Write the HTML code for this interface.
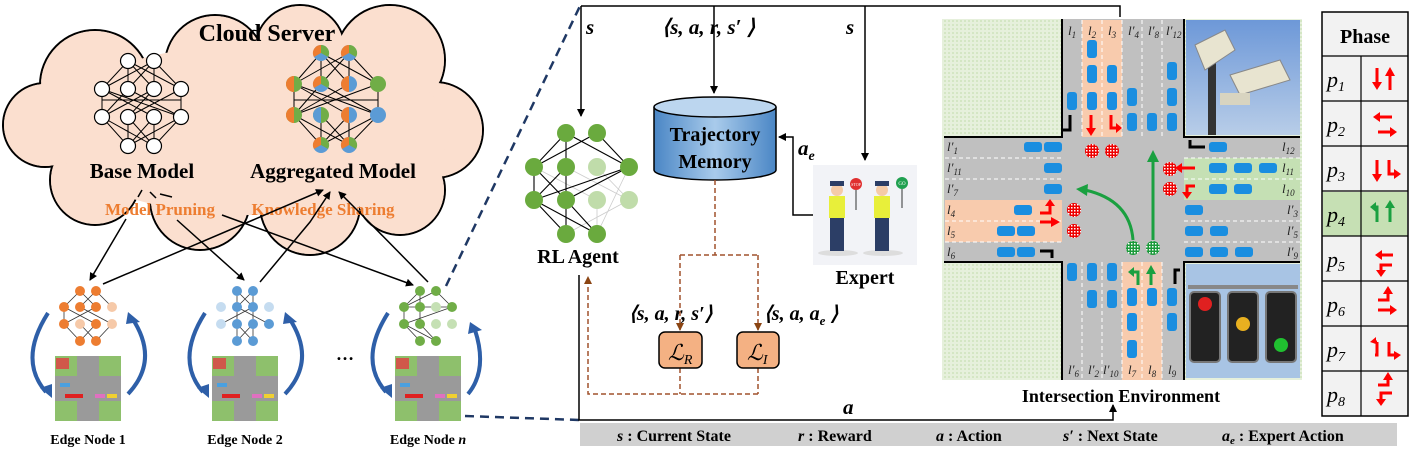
<!DOCTYPE html>
<html><head><meta charset="utf-8"><style>
html,body{margin:0;padding:0;background:#fff}
svg text{font-family:"Liberation Serif",serif}
</style></head><body>
<svg width="1412" height="450" viewBox="0 0 1412 450" xmlns="http://www.w3.org/2000/svg">
<defs>
<marker id="ah" markerWidth="8" markerHeight="8" refX="7" refY="4" orient="auto" markerUnits="userSpaceOnUse"><path d="M0,0 L8,4 L0,8 z" fill="#000"/></marker>
<marker id="ahb" markerWidth="8" markerHeight="8" refX="7" refY="4" orient="auto" markerUnits="userSpaceOnUse"><path d="M0,0 L8,4 L0,8 z" fill="#8b4513"/></marker>
<pattern id="grass" width="4" height="4" patternUnits="userSpaceOnUse"><rect width="4" height="4" fill="#e6f0dc"/><rect width="2" height="2" fill="#d4e6c4"/></pattern>
<pattern id="chk" width="3" height="3" patternUnits="userSpaceOnUse"><rect width="3" height="3" fill="#e00"/><rect width="1.5" height="1.5" fill="#fff"/></pattern>
<pattern id="chkg" width="3" height="3" patternUnits="userSpaceOnUse"><rect width="3" height="3" fill="#1a9a3a"/><rect width="1.5" height="1.5" fill="#fff"/></pattern>
<linearGradient id="cyl" x1="0" x2="1"><stop offset="0" stop-color="#4a86c5"/><stop offset="0.5" stop-color="#a9cbeb"/><stop offset="1" stop-color="#4a86c5"/></linearGradient>
<linearGradient id="sky" x1="0" y1="0" x2="0" y2="1"><stop offset="0" stop-color="#6d98d8"/><stop offset="1" stop-color="#b8cde8"/></linearGradient>
</defs>

<!-- CLOUD -->
<g stroke="#000" stroke-width="2" fill="#fbdfcf">
<circle cx="95" cy="85" r="55"/><circle cx="215" cy="65" r="50"/><circle cx="300" cy="50" r="45"/><circle cx="390" cy="60" r="55"/>
<circle cx="435" cy="130" r="48"/><circle cx="400" cy="190" r="45"/><circle cx="310" cy="205" r="50"/><circle cx="200" cy="200" r="50"/>
<circle cx="95" cy="180" r="45"/><circle cx="45" cy="125" r="42"/>
</g>
<g fill="#fbdfcf">
<circle cx="95" cy="85" r="54"/><circle cx="215" cy="65" r="49"/><circle cx="300" cy="50" r="44"/><circle cx="390" cy="60" r="54"/>
<circle cx="435" cy="130" r="47"/><circle cx="400" cy="190" r="44"/><circle cx="310" cy="205" r="49"/><circle cx="200" cy="200" r="49"/>
<circle cx="95" cy="180" r="44"/><circle cx="45" cy="125" r="41"/>
<ellipse cx="250" cy="130" rx="200" ry="85"/>
</g>
<text x="267" y="41" font-size="24" font-weight="bold" text-anchor="middle">Cloud Server</text>

<!-- base model -->
<g stroke="#000" stroke-width="1" fill="none">
<path d="M128,61 L102,89 M128,61 L128,89 M128,61 L154,89 M128,61 L181,89 M154,61 L102,89 M154,61 L128,89 M154,61 L154,89 M154,61 L181,89"/>
<path d="M102,89 L102,117 M102,89 L154,117 M102,89 L181,117 M128,89 L102,117 M128,89 L181,117 M154,89 L102,117 M154,89 L128,117 M181,89 L181,117 M181,89 L128,117 M102,100 L181,100"/>
<path d="M102,117 L128,146 M102,117 L154,146 M128,117 L154,146 M154,117 L128,146 M181,117 L128,146 M181,117 L154,146 M128,117 L128,146 M154,117 L154,146"/>
</g>
<g stroke="#000" stroke-width="1.2" fill="#fff">
<circle cx="128" cy="61" r="7.5"/><circle cx="154" cy="61" r="7.5"/>
<circle cx="102" cy="89" r="7.5"/><circle cx="128" cy="89" r="7.5"/><circle cx="154" cy="89" r="7.5"/><circle cx="181" cy="89" r="7.5"/>
<circle cx="102" cy="117" r="7.5"/><circle cx="128" cy="117" r="7.5"/><circle cx="154" cy="117" r="7.5"/><circle cx="181" cy="117" r="7.5"/>
<circle cx="128" cy="146" r="7.5"/><circle cx="154" cy="146" r="7.5"/>
</g>
<text x="142" y="178" font-size="21" font-weight="bold" text-anchor="middle">Base Model</text>

<!-- aggregated model -->
<g stroke="#000" stroke-width="1" fill="none">
<path d="M321,53 L294,84 M321,53 L349,84 M321,53 L378,84 M349,53 L294,84 M349,53 L321,84 M349,53 L378,84 M321,53 L321,84 M349,53 L349,84"/>
<path d="M294,84 L294,115 M294,84 L349,115 M294,84 L378,115 M321,84 L378,115 M349,84 L294,115 M378,84 L294,115 M378,84 L378,115 M321,84 L294,115 M294,100 L378,100"/>
<path d="M294,115 L321,145 M294,115 L349,145 M321,115 L349,145 M349,115 L321,145 M378,115 L321,145 M378,115 L349,145 M321,115 L321,145 M349,115 L349,145"/>
</g>
<g>
<g transform="translate(321,53)"><circle r="8" fill="#5b9bd5"/><path d="M0,0 L0,-8 A8,8 0 0 0 -7,4 z" fill="#ed7d31"/><path d="M0,0 L0,-8 A8,8 0 0 1 7,4 z" fill="#70ad47"/></g>
<g transform="translate(349,53)"><circle r="8" fill="#5b9bd5"/><path d="M0,0 L0,-8 A8,8 0 0 0 -7,4 z" fill="#ed7d31"/><path d="M0,0 L0,-8 A8,8 0 0 1 7,4 z" fill="#70ad47"/></g>
<g transform="translate(294,84)"><circle r="8" fill="#70ad47"/><path d="M0,-8 A8,8 0 0 0 0,8 z" fill="#ed7d31"/></g>
<g transform="translate(321,84)"><circle r="8" fill="#5b9bd5"/><path d="M0,0 L0,-8 A8,8 0 0 0 -7,4 z" fill="#ed7d31"/><path d="M0,0 L0,-8 A8,8 0 0 1 7,4 z" fill="#70ad47"/></g>
<g transform="translate(349,84)"><circle r="8" fill="#5b9bd5"/><path d="M0,-8 A8,8 0 0 0 0,8 z" fill="#ed7d31"/></g>
<circle cx="378" cy="84" r="8" fill="#70ad47"/>
<g transform="translate(294,115)"><circle r="8" fill="#70ad47"/><path d="M0,-8 A8,8 0 0 0 0,8 z" fill="#ed7d31"/></g>
<g transform="translate(321,115)"><circle r="8" fill="#70ad47"/><path d="M0,-8 A8,8 0 0 0 0,8 z" fill="#5b9bd5"/></g>
<g transform="translate(349,115)"><circle r="8" fill="#5b9bd5"/><path d="M0,-8 A8,8 0 0 0 0,8 z" fill="#ed7d31"/></g>
<circle cx="378" cy="115" r="8" fill="#5b9bd5"/>
<g transform="translate(321,145)"><circle r="8" fill="#5b9bd5"/><path d="M0,0 L0,-8 A8,8 0 0 0 -7,4 z" fill="#ed7d31"/><path d="M0,0 L0,-8 A8,8 0 0 1 7,4 z" fill="#70ad47"/></g>
<g transform="translate(349,145)"><circle r="8" fill="#5b9bd5"/><path d="M0,0 L0,-8 A8,8 0 0 0 -7,4 z" fill="#ed7d31"/><path d="M0,0 L0,-8 A8,8 0 0 1 7,4 z" fill="#70ad47"/></g>
</g>
<text x="333" y="178" font-size="21" font-weight="bold" text-anchor="middle">Aggregated Model</text>
<text x="160" y="215" font-size="17" font-weight="bold" fill="#ed7d31" text-anchor="middle">Model Pruning</text>
<text x="323" y="215" font-size="17" font-weight="bold" fill="#ed7d31" text-anchor="middle">Knowledge Sharing</text>
<path d="M142,190 L138,197 M150,192 L156,198 M160,194 L172,197" stroke="#000" stroke-width="1.5"/>

<!-- cloud <-> edge arrows -->
<g stroke="#000" stroke-width="1.5" fill="none" marker-end="url(#ah)">
<path d="M126,219 L90,280"/>
<path d="M177,220 L244,280"/>
<path d="M222,215 L413,285"/>
<path d="M103,284 L253,220 L323,190"/>
<path d="M260,282 L310,222 L330,192"/>
<path d="M428,282 L367,220 L339,192"/>
</g>

<!-- edge nodes -->
<g>
<g transform="translate(88,0)">
 <g stroke="#333" stroke-width="0.8"><path d="M-8,291 L-24,307 M-8,291 L8,307 M8,291 L-8,307 M8,291 L24,307 M-24,307 L-24,324 M-24,307 L8,324 M-8,307 L24,324 M8,307 L-24,324 M-24,324 L-8,341 M8,324 L-8,341 M-8,324 L8,341 M24,324 L8,341"/></g>
 <g fill="#ed7d31"><circle cx="-8" cy="291" r="5"/><circle cx="8" cy="291" r="5"/><circle cx="-24" cy="307" r="5"/><circle cx="-8" cy="307" r="5"/><circle cx="8" cy="307" r="5"/><circle cx="-24" cy="324" r="5"/><circle cx="8" cy="324" r="5"/><circle cx="-8" cy="341" r="5"/><circle cx="8" cy="341" r="5"/></g>
 <g fill="#f6c9a8"><circle cx="24" cy="307" r="5"/><circle cx="-8" cy="324" r="5"/><circle cx="24" cy="324" r="5"/></g>
</g>
<g transform="translate(245,0)">
 <g stroke="#333" stroke-width="0.8"><path d="M-8,291 L-8,307 M-8,291 L8,307 M8,291 L-8,307 M8,291 L8,307 M-8,307 L24,324 M-8,307 L-8,324 M8,307 L-24,324 M8,307 L8,324 M-8,324 L-8,341 M8,324 L8,341 M-8,324 L8,341 M8,324 L-8,341"/></g>
 <g fill="#5b9bd5"><circle cx="-8" cy="291" r="5"/><circle cx="8" cy="291" r="5"/><circle cx="-8" cy="307" r="5"/><circle cx="8" cy="307" r="5"/><circle cx="-8" cy="324" r="5"/><circle cx="8" cy="324" r="5"/><circle cx="24" cy="324" r="5"/><circle cx="-8" cy="341" r="5"/><circle cx="8" cy="341" r="5"/></g>
 <g fill="#c5dcf0"><circle cx="-24" cy="307" r="5"/><circle cx="24" cy="307" r="5"/><circle cx="-24" cy="324" r="5"/></g>
</g>
<g transform="translate(428,0)">
 <g stroke="#333" stroke-width="0.8"><path d="M-8,291 L-24,307 M-8,291 L-8,307 M8,291 L24,307 M8,291 L-24,307 M-24,307 L-24,324 M-24,307 L24,307 M-8,307 L-8,324 M24,307 L-24,324 M-24,324 L-8,341 M-8,324 L8,341 M-24,324 L8,341"/></g>
 <g fill="#70ad47"><circle cx="-8" cy="291" r="5"/><circle cx="8" cy="291" r="5"/><circle cx="-24" cy="307" r="5"/><circle cx="-8" cy="307" r="5"/><circle cx="24" cy="307" r="5"/><circle cx="-24" cy="324" r="5"/><circle cx="-8" cy="324" r="5"/><circle cx="-8" cy="341" r="5"/><circle cx="8" cy="341" r="5"/></g>
 <g fill="#c5e0b4"><circle cx="8" cy="307" r="5"/><circle cx="8" cy="324" r="5"/><circle cx="24" cy="324" r="5"/></g>
</g>
</g>
<!-- map tiles -->
<g>
<g transform="translate(55,356)"><rect width="66" height="65" fill="#9a9a9a"/><rect width="22" height="20" fill="#8ec06c"/><rect x="44" width="22" height="20" fill="#8ec06c"/><rect y="45" width="22" height="20" fill="#8ec06c"/><rect x="44" y="45" width="22" height="20" fill="#8ec06c"/><rect x="1" y="2" width="13" height="11" fill="#d0584a"/><rect x="10" y="38" width="18" height="4" fill="#e02020"/><rect x="40" y="38" width="10" height="4" fill="#e070c0"/><rect x="5" y="27" width="10" height="4" fill="#4aa0e0"/><rect x="52" y="38" width="10" height="4" fill="#f0d030"/></g>
<g transform="translate(212,356)"><rect width="66" height="65" fill="#9a9a9a"/><rect width="22" height="20" fill="#8ec06c"/><rect x="44" width="22" height="20" fill="#8ec06c"/><rect y="45" width="22" height="20" fill="#8ec06c"/><rect x="44" y="45" width="22" height="20" fill="#8ec06c"/><rect x="1" y="2" width="13" height="11" fill="#d0584a"/><rect x="10" y="38" width="18" height="4" fill="#e02020"/><rect x="40" y="38" width="10" height="4" fill="#e070c0"/><rect x="5" y="27" width="10" height="4" fill="#4aa0e0"/><rect x="52" y="38" width="10" height="4" fill="#f0d030"/></g>
<g transform="translate(395,356)"><rect width="66" height="65" fill="#9a9a9a"/><rect width="22" height="20" fill="#8ec06c"/><rect x="44" width="22" height="20" fill="#8ec06c"/><rect y="45" width="22" height="20" fill="#8ec06c"/><rect x="44" y="45" width="22" height="20" fill="#8ec06c"/><rect x="1" y="2" width="13" height="11" fill="#d0584a"/><rect x="10" y="38" width="18" height="4" fill="#e02020"/><rect x="40" y="38" width="10" height="4" fill="#e070c0"/><rect x="5" y="27" width="10" height="4" fill="#4aa0e0"/><rect x="52" y="38" width="10" height="4" fill="#f0d030"/></g>
</g>
<!-- blue curved arrows -->
<g stroke="#2e5fa8" stroke-width="4" fill="none">
<path d="M48,313 Q18,360 46,392"/><path d="M128,394 Q160,360 132,318"/>
<path d="M205,313 Q175,360 203,392"/><path d="M285,394 Q317,360 289,318"/>
<path d="M388,313 Q358,360 386,392"/><path d="M468,394 Q488,370 475,330"/>
</g>
<g fill="#2e5fa8">
<path d="M40,388 L52,398 L52,384 z"/><path d="M128,312 L140,322 L126,324 z"/>
<path d="M197,388 L209,398 L209,384 z"/><path d="M285,312 L297,322 L283,324 z"/>
<path d="M380,388 L392,398 L392,384 z"/><path d="M470,322 L482,330 L468,334 z"/>
</g>
<text x="336" y="360" font-size="18" font-weight="bold">…</text>
<text x="88" y="444" font-size="14" font-weight="bold" text-anchor="middle">Edge Node 1</text>
<text x="245" y="444" font-size="14" font-weight="bold" text-anchor="middle">Edge Node 2</text>
<text x="428" y="444" font-size="14" font-weight="bold" text-anchor="middle">Edge Node <tspan font-style="italic">n</tspan></text>

<!-- blue dashed zoom lines -->
<g stroke="#1f3864" stroke-width="2.5" stroke-dasharray="9,6" fill="none">
<path d="M446,286 L580,6"/><path d="M465,416 L580,420"/>
</g>

<!-- middle panel lines -->
<g stroke="#000" stroke-width="1.5" fill="none">
<path d="M581,6 L1120,6 L1120,17"/>
<path d="M581,6 L581,116" marker-end="url(#ah)"/>
<path d="M714,6 L714,93" marker-end="url(#ah)"/>
<path d="M865,6 L865,160" marker-end="url(#ah)"/>
<path d="M813,215 L793,215 L793,137 L779,137" marker-end="url(#ah)"/>
<path d="M579,275 L579,420 L1113,420 L1113,405" marker-end="url(#ah)"/>
</g>
<g font-size="21" font-weight="bold" font-style="italic">
<text x="586" y="34">s</text>
<text x="662" y="34">⟨s, a, r, s′ ⟩</text>
<text x="846" y="34">s</text>
<text x="798" y="155">a<tspan font-size="14" dy="5">e</tspan></text>
<text x="843" y="414">a</text>
<text x="629" y="320" font-size="20">⟨s, a, r, s′⟩</text>
<text x="764" y="320" font-size="20">⟨s, a, a<tspan font-size="13" dy="5">e</tspan><tspan dy="-5"> ⟩</tspan></text>
</g>

<!-- cylinder -->
<path d="M654,107 L654,170 A61,10 0 0 0 776,170 L776,107" fill="url(#cyl)" stroke="#000" stroke-width="1.5"/>
<ellipse cx="715" cy="107" rx="61" ry="10" fill="#bcd6ef" stroke="#000" stroke-width="1.5"/>
<text x="715" y="141" font-size="20" font-weight="bold" text-anchor="middle">Trajectory</text>
<text x="715" y="168" font-size="20" font-weight="bold" text-anchor="middle">Memory</text>

<!-- RL agent -->
<g stroke="#ccc" stroke-width="0.8"><path d="M534,167 L597,200 M566,167 L629,200 M597,167 L629,200 M629,167 L597,234 M597,200 L597,234 M629,200 L566,234"/></g>
<g stroke="#000" stroke-width="1.1"><path d="M566,133 L534,167 M566,133 L566,167 M566,133 L629,167 M597,133 L534,167 M597,133 L629,167 M534,167 L534,200 M534,167 L566,200 M566,167 L534,200 M566,167 L566,200 M629,167 L534,200 M629,167 L566,200 M534,200 L566,234 M534,200 L597,234 M566,200 L597,234 M566,200 L566,234"/></g>
<g fill="#6aaa3e"><circle cx="566" cy="133" r="9"/><circle cx="597" cy="133" r="9"/><circle cx="534" cy="167" r="9"/><circle cx="566" cy="167" r="9"/><circle cx="629" cy="167" r="9"/><circle cx="534" cy="200" r="9"/><circle cx="566" cy="200" r="9"/><circle cx="566" cy="234" r="9"/><circle cx="597" cy="234" r="9"/></g>
<g fill="#c0dcaa"><circle cx="597" cy="167" r="9"/><circle cx="597" cy="200" r="9"/><circle cx="629" cy="200" r="9"/></g>
<text x="578" y="263" font-size="20" font-weight="bold" text-anchor="middle">RL Agent</text>

<!-- expert -->
<rect x="813" y="165" width="104" height="100" fill="#f2f3f7"/>
<ellipse cx="838" cy="253" rx="20" ry="3" fill="#ddd"/><ellipse cx="883" cy="253" rx="20" ry="3" fill="#ddd"/>
<g>
<circle cx="837" cy="190" r="6" fill="#f5cba7"/><rect x="830" y="181" width="14" height="5" fill="#2c3e66"/>
<rect x="829" y="196" width="16" height="22" fill="#e8ef3a"/><rect x="830" y="218" width="14" height="33" fill="#2c3e66"/>
<circle cx="882" cy="190" r="6" fill="#f5cba7"/><rect x="875" y="181" width="14" height="5" fill="#2c3e66"/>
<rect x="874" y="196" width="16" height="22" fill="#e8ef3a"/><rect x="875" y="218" width="14" height="33" fill="#2c3e66"/>
<circle cx="856" cy="184" r="6" fill="#e03030"/><line x1="856" y1="190" x2="856" y2="210" stroke="#333"/>
<circle cx="902" cy="183" r="6" fill="#20a050"/><line x1="902" y1="189" x2="902" y2="208" stroke="#333"/>
<text x="856" y="186" font-size="4" fill="#fff" text-anchor="middle">STOP</text>
<text x="902" y="185" font-size="5" fill="#fff" text-anchor="middle">GO</text>
</g>
<text x="865" y="284" font-size="20" font-weight="bold" text-anchor="middle">Expert</text>

<!-- dashed brown -->
<g stroke="#a0522d" stroke-width="1.5" stroke-dasharray="5,3" fill="none">
<path d="M715,180 L715,255"/><path d="M680,255 L758,255"/>
<path d="M680,255 L680,330" marker-end="url(#ahb)"/><path d="M758,255 L758,330" marker-end="url(#ahb)"/>
<path d="M680,368 L680,394 M758,368 L758,394 M758,394 L588,394 L588,277" marker-end="url(#ahb)"/>
</g>
<rect x="659" y="332" width="43" height="36" rx="6" fill="#f4b183" stroke="#000" stroke-width="1.5"/>
<rect x="737" y="332" width="42" height="36" rx="6" fill="#f4b183" stroke="#000" stroke-width="1.5"/>
<text x="668" y="360" font-size="22" font-style="italic">ℒ<tspan font-size="14" dy="4">R</tspan></text>
<text x="747" y="360" font-size="22" font-style="italic">ℒ<tspan font-size="14" dy="4">I</tspan></text>

<!-- legend bar -->
<rect x="580" y="423" width="817" height="23" fill="#d0d0d0"/>
<g font-size="16" font-weight="bold">
<text x="617" y="441"><tspan font-style="italic">s</tspan> : Current State</text>
<text x="798" y="441"><tspan font-style="italic">r</tspan> : Reward</text>
<text x="936" y="441"><tspan font-style="italic">a</tspan> : Action</text>
<text x="1063" y="441"><tspan font-style="italic">s′</tspan> : Next State</text>
<text x="1222" y="441"><tspan font-style="italic">a<tspan font-size="11" dy="3">e</tspan></tspan><tspan dy="-3"> : Expert Action</tspan></text>
</g>

<!-- INTERSECTION -->
<rect x="942" y="19" width="360" height="361" fill="url(#grass)"/>
<rect x="1062" y="19" width="122" height="361" fill="#c0c0c0"/>
<rect x="944" y="137" width="356" height="125" fill="#c0c0c0"/>
<rect x="1082" y="20" width="40" height="117" fill="#f8cbad"/>
<rect x="1122" y="262" width="40" height="118" fill="#f8cbad"/>
<rect x="945" y="200" width="117" height="42" fill="#f8cbad"/>
<rect x="1184" y="158" width="116" height="42" fill="#c5e0b4"/>
<g stroke="#fff" stroke-width="1" stroke-dasharray="4,3">
<path d="M1082,20 V137 M1102,20 V137 M1122,20 V137 M1142,20 V137 M1162,20 V137"/>
<path d="M1082,262 V380 M1102,262 V380 M1122,262 V380 M1142,262 V380 M1162,262 V380"/>
<path d="M945,158 H1062 M945,179 H1062 M945,221 H1062 M945,242 H1062"/>
<path d="M1184,158 H1300 M1184,179 H1300 M1184,221 H1300 M1184,242 H1300"/>
</g>
<g stroke="#000" stroke-width="2" fill="none">
<path d="M1062,19 V137 H944"/><path d="M944,262 H1062 V380"/><path d="M1184,380 V262 H1300"/><path d="M1300,137 H1184 V19"/>
</g>
<!-- photos -->
<rect x="1186" y="20" width="114" height="115" fill="url(#sky)"/>
<rect x="1208" y="60" width="8" height="75" fill="#333"/>
<path d="M1195,45 L1225,30 L1235,50 L1205,70 z" fill="#e8e4d0" stroke="#888"/>
<path d="M1230,75 L1280,60 L1290,80 L1240,95 z" fill="#e8e4d0" stroke="#888"/>
<rect x="1220" y="93" width="30" height="12" fill="#d8d4c0"/>
<rect x="1186" y="264" width="114" height="114" fill="#a8c4e4"/>
<rect x="1188" y="285" width="110" height="4" fill="#888"/>
<g fill="#222" stroke="#777" stroke-width="2">
<rect x="1190" y="292" width="30" height="70" rx="4"/><rect x="1228" y="292" width="30" height="70" rx="4"/><rect x="1266" y="292" width="30" height="70" rx="4"/></g>
<circle cx="1205" cy="304" r="7" fill="#e02020"/><circle cx="1243" cy="324" r="7" fill="#e8b020"/><circle cx="1281" cy="345" r="7" fill="#20c030"/>
<!-- cars -->
<g fill="#1a8ee0">
<rect x="1087" y="40" width="10" height="18" rx="3"/><rect x="1087" y="65" width="10" height="18" rx="3"/><rect x="1087" y="92" width="10" height="18" rx="3"/>
<rect x="1107" y="65" width="10" height="18" rx="3"/><rect x="1107" y="92" width="10" height="18" rx="3"/>
<rect x="1067" y="92" width="10" height="18" rx="3"/>
<rect x="1127" y="88" width="10" height="18" rx="3"/><rect x="1127" y="113" width="10" height="18" rx="3"/><rect x="1147" y="113" width="10" height="18" rx="3"/>
<rect x="1167" y="62" width="10" height="18" rx="3"/><rect x="1167" y="88" width="10" height="18" rx="3"/><rect x="1167" y="113" width="10" height="18" rx="3"/>
<rect x="1067" y="263" width="10" height="18" rx="3"/><rect x="1087" y="263" width="10" height="18" rx="3"/><rect x="1107" y="263" width="10" height="18" rx="3"/>
<rect x="1087" y="290" width="10" height="18" rx="3"/><rect x="1107" y="290" width="10" height="18" rx="3"/>
<rect x="1127" y="288" width="10" height="18" rx="3"/><rect x="1127" y="313" width="10" height="18" rx="3"/><rect x="1127" y="340" width="10" height="18" rx="3"/>
<rect x="1147" y="288" width="10" height="18" rx="3"/><rect x="1167" y="288" width="10" height="18" rx="3"/><rect x="1167" y="313" width="10" height="18" rx="3"/>
<rect x="1024" y="142" width="18" height="10" rx="3"/><rect x="1044" y="142" width="18" height="10" rx="3"/><rect x="1044" y="163" width="18" height="10" rx="3"/><rect x="1044" y="184" width="18" height="10" rx="3"/>
<rect x="1014" y="205" width="18" height="10" rx="3"/><rect x="997" y="226" width="18" height="10" rx="3"/><rect x="1017" y="226" width="18" height="10" rx="3"/>
<rect x="997" y="247" width="18" height="10" rx="3"/><rect x="1017" y="247" width="18" height="10" rx="3"/>
<rect x="1209" y="142" width="18" height="10" rx="3"/><rect x="1209" y="163" width="18" height="10" rx="3"/><rect x="1234" y="163" width="18" height="10" rx="3"/><rect x="1259" y="163" width="18" height="10" rx="3"/>
<rect x="1209" y="184" width="18" height="10" rx="3"/><rect x="1234" y="184" width="18" height="10" rx="3"/>
<rect x="1185" y="205" width="18" height="10" rx="3"/><rect x="1185" y="226" width="18" height="10" rx="3"/><rect x="1210" y="226" width="18" height="10" rx="3"/>
<rect x="1185" y="247" width="18" height="10" rx="3"/><rect x="1210" y="247" width="18" height="10" rx="3"/><rect x="1235" y="247" width="18" height="10" rx="3"/>
</g>
<!-- signal dots -->
<g><circle cx="1092" cy="151" r="7" fill="url(#chk)"/><circle cx="1112" cy="151" r="7" fill="url(#chk)"/>
<circle cx="1170" cy="169" r="7" fill="url(#chk)"/><circle cx="1170" cy="189" r="7" fill="url(#chk)"/>
<circle cx="1074" cy="210" r="7" fill="url(#chk)"/><circle cx="1074" cy="231" r="7" fill="url(#chk)"/>
<circle cx="1133" cy="248" r="7" fill="url(#chkg)"/><circle cx="1153" cy="248" r="7" fill="url(#chkg)"/></g>
<!-- green movement arrows -->
<g stroke="#1aa040" stroke-width="3" fill="none">
<path d="M1153,240 V160"/><path d="M1133,240 Q1130,200 1085,190"/>
</g>
<path d="M1147,162 L1153,150 L1159,162 z" fill="#1aa040"/><path d="M1088,184 L1076,189 L1087,196 z" fill="#1aa040"/>
<!-- lane arrows -->
<g stroke="#f00" stroke-width="3" fill="none">
<path d="M1091,115 V130"/><path d="M1111,115 V128 H1117"/><path d="M1040,222 H1052"/><path d="M1040,213 H1050 V205"/>
<path d="M1195,168 H1180"/><path d="M1195,186 H1187 V193"/>
</g>
<g fill="#f00"><path d="M1086,128 L1091,136 L1096,128 z"/><path d="M1116,123 L1122,128 L1116,133 z"/><path d="M1051,217 L1060,222 L1051,227 z"/><path d="M1045,206 L1050,199 L1055,206 z"/><path d="M1182,163 L1175,168 L1182,173 z"/><path d="M1182,192 L1187,199 L1192,192 z"/></g>
<g stroke="#1aa040" stroke-width="3" fill="none"><path d="M1151,285 V272"/><path d="M1138,285 V272 H1132"/></g>
<g fill="#1aa040"><path d="M1146,274 L1151,265 L1156,274 z"/><path d="M1134,267 L1128,272 L1134,277 z"/></g>
<g stroke="#000" stroke-width="3" fill="none"><path d="M1070,115 V130 H1063"/><path d="M1040,251 H1052 V258"/><path d="M1175,284 V270 H1180"/><path d="M1205,147 H1190 V140"/></g>
<!-- lane labels -->
<g font-size="13" font-style="italic" fill="#222">
<text x="1068" y="35">l<tspan font-size="9" dy="3">1</tspan></text><text x="1088" y="35">l<tspan font-size="9" dy="3">2</tspan></text><text x="1108" y="35">l<tspan font-size="9" dy="3">3</tspan></text>
<text x="1128" y="35">l′<tspan font-size="9" dy="3">4</tspan></text><text x="1148" y="35">l′<tspan font-size="9" dy="3">8</tspan></text><text x="1166" y="35">l′<tspan font-size="9" dy="3">12</tspan></text>
<text x="1068" y="374">l′<tspan font-size="9" dy="3">6</tspan></text><text x="1088" y="374">l′<tspan font-size="9" dy="3">2</tspan></text><text x="1103" y="374">l′<tspan font-size="9" dy="3">10</tspan></text>
<text x="1128" y="374">l<tspan font-size="9" dy="3">7</tspan></text><text x="1148" y="374">l<tspan font-size="9" dy="3">8</tspan></text><text x="1168" y="374">l<tspan font-size="9" dy="3">9</tspan></text>
<text x="947" y="151">l′<tspan font-size="9" dy="3">1</tspan></text><text x="947" y="172">l′<tspan font-size="9" dy="3">11</tspan></text><text x="947" y="193">l′<tspan font-size="9" dy="3">7</tspan></text>
<text x="947" y="214">l<tspan font-size="9" dy="3">4</tspan></text><text x="947" y="235">l<tspan font-size="9" dy="3">5</tspan></text><text x="947" y="256">l<tspan font-size="9" dy="3">6</tspan></text>
<text x="1282" y="151">l<tspan font-size="9" dy="3">12</tspan></text><text x="1282" y="172">l<tspan font-size="9" dy="3">11</tspan></text><text x="1282" y="193">l<tspan font-size="9" dy="3">10</tspan></text>
<text x="1287" y="214">l′<tspan font-size="9" dy="3">3</tspan></text><text x="1287" y="235">l′<tspan font-size="9" dy="3">5</tspan></text><text x="1287" y="256">l′<tspan font-size="9" dy="3">9</tspan></text>
</g>
<text x="1121" y="402" font-size="18" font-weight="bold" text-anchor="middle">Intersection Environment</text>

<!-- PHASE TABLE -->
<rect x="1322" y="12" width="86" height="404" fill="#f2f2f2" stroke="#000" stroke-width="1.5"/>
<rect x="1323" y="192" width="84" height="44" fill="#c6e0b4"/>
<g stroke="#000" stroke-width="1.2">
<path d="M1322,56 H1408 M1322,101 H1408 M1322,146 H1408 M1322,191 H1408 M1322,236 H1408 M1322,281 H1408 M1322,326 H1408 M1322,371 H1408"/>
<path d="M1361,56 V416"/>
</g>
<text x="1365" y="43" font-size="20" font-weight="bold" text-anchor="middle">Phase</text>
<g font-size="22" font-style="italic">
<text x="1327" y="87">p<tspan font-size="14" dy="4">1</tspan></text>
<text x="1327" y="132">p<tspan font-size="14" dy="4">2</tspan></text>
<text x="1327" y="177">p<tspan font-size="14" dy="4">3</tspan></text>
<text x="1327" y="222">p<tspan font-size="14" dy="4">4</tspan></text>
<text x="1327" y="267">p<tspan font-size="14" dy="4">5</tspan></text>
<text x="1327" y="312">p<tspan font-size="14" dy="4">6</tspan></text>
<text x="1327" y="357">p<tspan font-size="14" dy="4">7</tspan></text>
<text x="1327" y="402">p<tspan font-size="14" dy="4">8</tspan></text>
</g>
<g stroke="#f00" stroke-width="3" fill="none">
<path d="M1377,68 V84 M1390,74 V90"/>
<path d="M1378,117 H1392 M1378,132 H1392"/>
<path d="M1377,160 V176 M1389,160 V174 H1396"/>
<path d="M1380,255 H1393 M1392,265 H1381 V272"/>
<path d="M1378,300 H1388 V292 M1378,310 H1392"/>
<path d="M1377,342 V355 H1375 M1377,342 H1374 M1389,342 V355 H1396"/>
<path d="M1378,385 H1388 V378 M1392,393 H1381 V401"/>
</g>
<g fill="#f00">
<path d="M1372,82 L1377,90 L1382,82 z"/><path d="M1385,76 L1390,67 L1395,76 z"/>
<path d="M1380,112 L1373,117 L1380,122 z"/><path d="M1390,127 L1397,132 L1390,137 z"/>
<path d="M1372,174 L1377,182 L1382,174 z"/><path d="M1394,169 L1401,174 L1394,179 z"/>
<path d="M1382,250 L1375,255 L1382,260 z"/><path d="M1376,270 L1381,277 L1386,270 z"/>
<path d="M1383,294 L1388,286 L1393,294 z"/><path d="M1390,305 L1397,310 L1390,315 z"/>
<path d="M1376,344 L1370,342 L1376,337 z"/><path d="M1394,351 L1401,355 L1394,360 z"/>
<path d="M1383,380 L1388,372 L1393,380 z"/><path d="M1376,399 L1381,406 L1386,399 z"/>
</g>
<g stroke="#1aa040" stroke-width="3" fill="none"><path d="M1377,222 V207 H1374 M1390,222 V206"/></g>
<g fill="#1aa040"><path d="M1376,202 L1370,207 L1376,212 z"/><path d="M1385,208 L1390,200 L1395,208 z"/></g>
</svg>
</body></html>
